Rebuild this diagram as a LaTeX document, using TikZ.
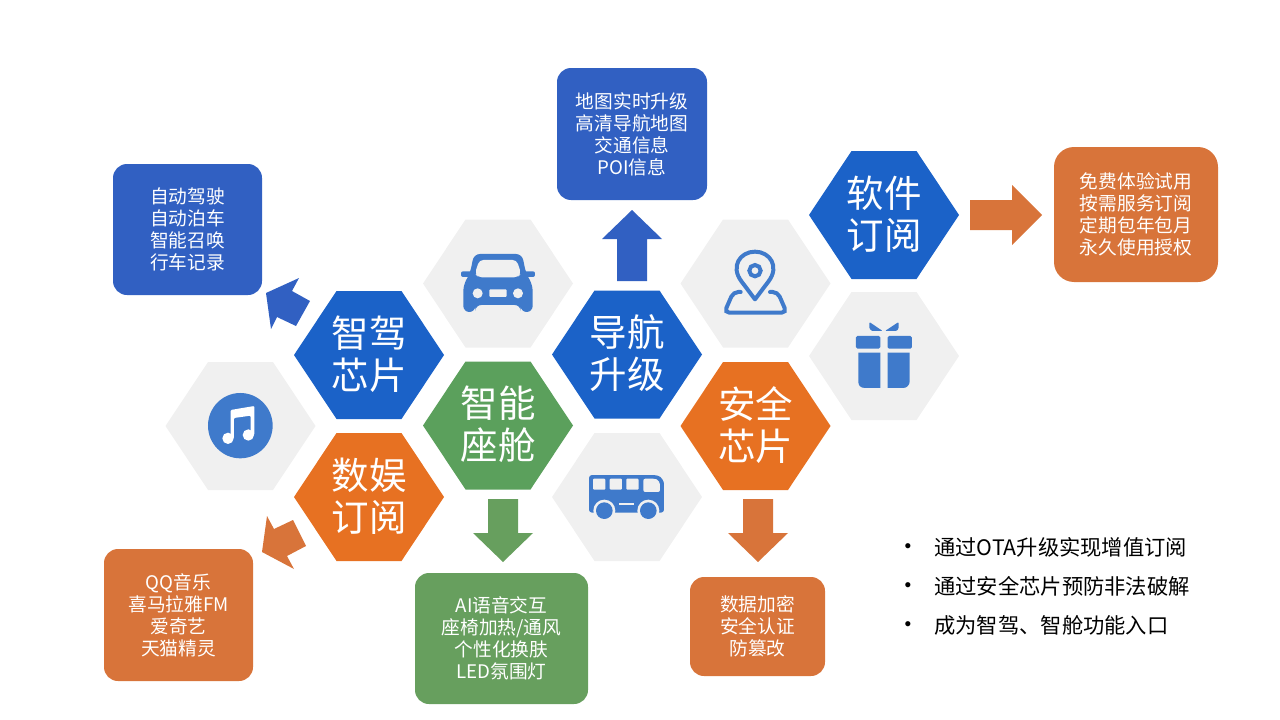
\documentclass[tikz,border=0pt]{standalone}
\usepackage{fontspec}
\setmainfont{Noto Sans CJK SC}
\newfontfamily\dotfont{Liberation Sans}
\definecolor{hblue}{HTML}{1B62C8}
\definecolor{horange}{HTML}{E77122}
\definecolor{hgreen}{HTML}{5BA05C}
\definecolor{hgray}{HTML}{F0F0F0}
\definecolor{bblue}{HTML}{3160C2}
\definecolor{borange}{HTML}{D8743A}
\definecolor{bgreen}{HTML}{679F5E}
\definecolor{icon}{HTML}{3F7ACB}
\tikzset{
  hexlabel/.style={text=white,font=\fontsize{37.5}{42}\selectfont,align=center,inner sep=0pt},
  infobox/.style={rounded corners=14,text=white,font=\fontsize{18.7}{22}\selectfont,align=center,inner sep=0pt},
  bullet/.style={anchor=west,text=black,font=\fontsize{21.3}{26}\selectfont,inner sep=0pt},
  dotmark/.style={anchor=center,text=black,font=\dotfont\fontsize{19}{24}\selectfont,inner sep=0pt},
}
\newcommand{\hexpath}[3]{% cx cy colour
  \fill[#3] (#1-75,#2) -- (#1-32.5,#2-64) -- (#1+32.5,#2-64) -- (#1+75,#2) -- (#1+32.5,#2+64) -- (#1-32.5,#2+64) -- cycle;}
\begin{document}
\begin{tikzpicture}[x=1pt,y=-1pt]
\useasboundingbox (0,0) rectangle (1280,720);
% hexagons
\hexpath{884}{215}{hblue}
\hexpath{884}{356}{hgray}
\hexpath{755.5}{283.5}{hgray}
\hexpath{498}{283.5}{hgray}
\hexpath{627}{354.5}{hblue}
\hexpath{369}{355}{hblue}
\hexpath{498}{425.5}{hgreen}
\hexpath{755.5}{426}{horange}
\hexpath{240.5}{426}{hgray}
\hexpath{369}{497}{horange}
\hexpath{627}{497}{hgray}
\node[hexlabel] (h1) at (884,214) {软件\\订阅};
\node[hexlabel] (h2) at (627,353.5) {导航\\升级};
\node[hexlabel] (h3) at (369,354) {智驾\\芯片};
\node[hexlabel] (h4) at (498,424.5) {智能\\座舱};
\node[hexlabel] (h5) at (755.5,425) {安全\\芯片};
\node[hexlabel] (h6) at (369,496) {数娱\\订阅};
% boxes
\node[infobox,fill=bblue,minimum width=149,minimum height=131] (b1) at (187.5,229.5) {自动驾驶\\自动泊车\\智能召唤\\行车记录};
\node[infobox,fill=bblue,minimum width=150,minimum height=132] (b2) at (632,134) {地图实时升级\\高清导航地图\\交通信息\\POI信息};
\node[infobox,fill=borange,rounded corners=20,minimum width=164,minimum height=135] (b3) at (1136,214.5) {免费体验试用\\按需服务订阅\\定期包年包月\\永久使用授权};
\node[infobox,fill=borange,minimum width=149,minimum height=132] (b4) at (178.5,615) {QQ音乐\\喜马拉雅FM\\爱奇艺\\天猫精灵};
\node[infobox,fill=bgreen,minimum width=173,minimum height=131] (b5) at (501.5,638.5) {AI语音交互\\座椅加热/通风\\个性化换肤\\LED氛围灯};
\node[infobox,fill=borange,minimum width=135,minimum height=99] (b6) at (757.5,626.5) {数据加密\\安全认证\\防篡改};
% block arrows
\fill[bblue] (632,210) -- (662,239) -- (647,239) -- (647,281) -- (617,281) -- (617,239) -- (602,239) -- cycle;
\fill[bblue] (266,293) -- (299,278) -- (292,291) -- (310,301) -- (296,326) -- (277,317) -- (271,329) -- cycle;
\fill[borange] (262,552) -- (267,516) -- (274,529) -- (293,520) -- (306,546) -- (287,556) -- (294,569) -- cycle;
\fill[borange] (1042,215) -- (1012,245) -- (1012,230) -- (970,230) -- (970,200) -- (1012,200) -- (1012,185) -- cycle;
\fill[bgreen] (503,562) -- (473,533) -- (488,533) -- (488,499) -- (518,499) -- (518,533) -- (533,533) -- cycle;
\fill[borange] (758,562) -- (728,533) -- (743,533) -- (743,499) -- (773,499) -- (773,533) -- (788,533) -- cycle;
% car icon
\begin{scope}[shift={(420,210)},x=0.3333pt,y=-0.3333pt]
\fill[icon,rounded corners=2] (123,184) rectangle (345,201);
\fill[icon,rounded corners=6] (130,306) -- (130,225) -- (150,190) -- (162,132) -- (306,132) -- (318,190) -- (338,225) -- (338,306) -- (302,306) -- (302,285) -- (166,285) -- (166,306) -- cycle;
\fill[hgray,rounded corners=4] (178,150) -- (290,150) -- (303,190) -- (294,202) -- (174,202) -- (165,190) -- cycle;
\fill[hgray] (173,250) circle (15) (294,250) circle (15);
\fill[hgray,rounded corners=1] (208,238) rectangle (260,261);
\end{scope}
% pin icon
\begin{scope}[shift={(690,210)},x=0.3333pt,y=-0.3333pt]
\draw[icon,line width=4pt,line join=round] (195,268) -- (155,215) .. controls (120,170) and (150,125) .. (195,125) .. controls (240,125) and (270,170) .. (235,215) -- cycle;
\draw[icon,line width=4pt] (195,182) circle (17);
\draw[icon,line width=4pt,line cap=round,rounded corners=5] (152,246) -- (130,246) -- (103,308) -- (290,308) -- (263,246) -- (240,246);
\end{scope}
% gift icon
\begin{scope}[shift={(690,210)},x=0.3333pt,y=-0.3333pt]
\fill[icon,rounded corners=1.5] (498,378) rectangle (571,416);
\fill[icon,rounded corners=1.5] (593,378) rectangle (666,416);
\fill[icon] (505,428) -- (571,428) -- (571,534) -- (525,534) .. controls (510,534) and (505,525) .. (505,515) -- cycle;
\fill[icon] (593,428) -- (659,428) -- (659,515) .. controls (659,525) and (650,534) .. (640,534) -- (593,534) -- cycle;
\fill[icon,rounded corners=1] (538,336) -- (578,363) -- (545,363) -- (538,355) -- cycle;
\fill[icon,rounded corners=1] (626,336) -- (585,363) -- (620,363) -- (626,355) -- cycle;
\end{scope}
% music icon
\begin{scope}[shift={(160,270)},x=0.3333pt,y=-0.3333pt]
\fill[icon] (241,467) circle [x radius=97,y radius=98];
\fill[white,rounded corners=1] (212,420) -- (283,408) -- (283,495) -- (272,495) -- (272,437) -- (222,444) -- (222,505) -- (212,505) -- cycle;
\fill[white] (204,505) circle (17) (265,495) circle (17);
\end{scope}
% bus icon
\begin{scope}[shift={(550,430)},x=0.3333pt,y=-0.3333pt]
\fill[icon,rounded corners=3] (117,135) -- (315,135) .. controls (335,140) and (342,155) .. (342,170) -- (342,248) -- (117,248) -- cycle;
\fill[hgray,rounded corners=1] (129,146) rectangle (166,179);
\fill[hgray,rounded corners=1] (179,146) rectangle (216,179);
\fill[hgray,rounded corners=1] (229,146) rectangle (266,179);
\fill[hgray,rounded corners=2] (280,146) -- (315,146) .. controls (325,150) and (330,158) .. (330,170) -- (330,186) -- (280,186) -- cycle;
\fill[hgray] (206,220) rectangle (253,226);
\fill[hgray] (163,242) circle (33) (295,242) circle (33);
\fill[hgray] (120,250) rectangle (340,280);
\fill[icon] (163,242) circle (25) (295,242) circle (25);
\end{scope}
% bullets
\node[dotmark] (d1) at (908,548) {•};
\node[dotmark] (d2) at (908,587) {•};
\node[dotmark] (d3) at (908,626) {•};
\node[bullet] (t1) at (934,547) {通过OTA升级实现增值订阅};
\node[bullet] (t2) at (934,586) {通过安全芯片预防非法破解};
\node[bullet] (t3) at (934,625) {成为智驾、智舱功能入口};
\end{tikzpicture}
\end{document}
